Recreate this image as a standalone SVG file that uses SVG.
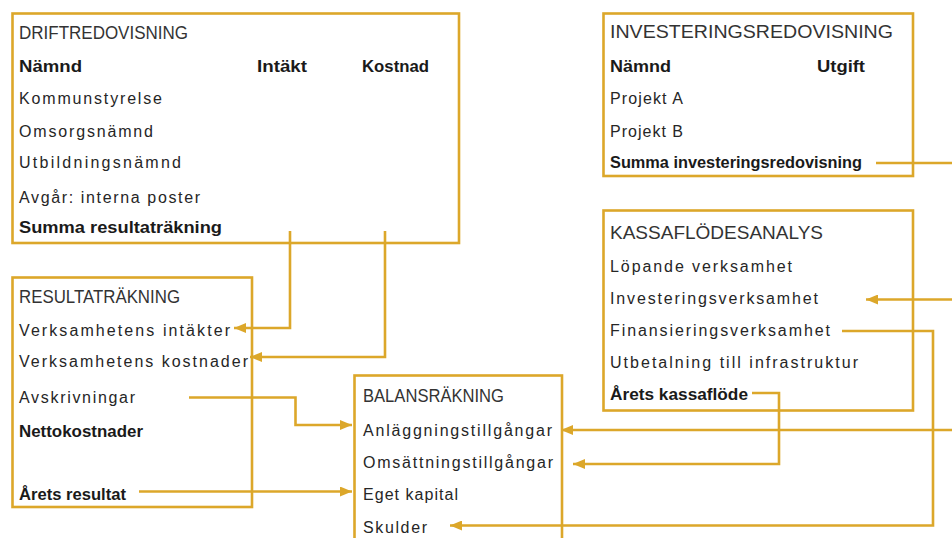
<svg xmlns="http://www.w3.org/2000/svg" width="952" height="538" viewBox="0 0 952 538">
<style>
.box{fill:#fff;stroke:#DCA72A;stroke-width:2.6}
.ln{fill:none;stroke:#DCA72A;stroke-width:2.6}
text{font-family:"Liberation Sans",Arial,sans-serif;fill:#262626}
.t{font-size:18px;fill:#333}
.r{font-size:16px}
.b{font-size:17px;font-weight:bold;fill:#1a1a1a}
</style>
<defs>
<marker id="ah" viewBox="0 0 12 10" refX="12" refY="5" markerWidth="12" markerHeight="10" markerUnits="userSpaceOnUse" orient="auto">
<path d="M0,0 L12,5 L0,10 z" fill="#DCA72A"/>
</marker>
</defs>
<g id="driftredovisning">
<rect class="box" x="12.5" y="13.5" width="446.5" height="229.5"/>
<text class="t" x="19" y="39" textLength="169" lengthAdjust="spacingAndGlyphs">DRIFTREDOVISNING</text>
<text class="b" x="19" y="72" textLength="63" lengthAdjust="spacingAndGlyphs">Nämnd</text>
<text class="b" x="257" y="72" textLength="50" lengthAdjust="spacingAndGlyphs">Intäkt</text>
<text class="b" x="362" y="72" textLength="67" lengthAdjust="spacingAndGlyphs">Kostnad</text>
<text class="r" x="19" y="104" textLength="143" lengthAdjust="spacing">Kommunstyrelse</text>
<text class="r" x="19" y="137" textLength="134" lengthAdjust="spacing">Omsorgsnämnd</text>
<text class="r" x="19" y="168" textLength="162" lengthAdjust="spacing">Utbildningsnämnd</text>
<text class="r" x="19" y="203" textLength="181" lengthAdjust="spacing">Avgår: interna poster</text>
<text class="b" x="19" y="233" textLength="203" lengthAdjust="spacingAndGlyphs">Summa resultaträkning</text>
</g>
<g id="investeringsredovisning">
<rect class="box" x="603.5" y="13.5" width="309.5" height="162.5"/>
<text class="t" x="610" y="38" textLength="283" lengthAdjust="spacingAndGlyphs">INVESTERINGSREDOVISNING</text>
<text class="b" x="610" y="72" textLength="61" lengthAdjust="spacingAndGlyphs">Nämnd</text>
<text class="b" x="817" y="72" textLength="48" lengthAdjust="spacingAndGlyphs">Utgift</text>
<text class="r" x="610" y="104" textLength="73" lengthAdjust="spacing">Projekt A</text>
<text class="r" x="610" y="137" textLength="73" lengthAdjust="spacing">Projekt B</text>
<text class="b" x="610" y="168" textLength="252" lengthAdjust="spacingAndGlyphs">Summa investeringsredovisning</text>
</g>
<g id="kassaflodesanalys">
<rect class="box" x="603.5" y="210.5" width="309.5" height="200"/>
<text class="t" x="610" y="239" textLength="213" lengthAdjust="spacingAndGlyphs">KASSAFLÖDESANALYS</text>
<text class="r" x="610" y="272" textLength="182" lengthAdjust="spacing">Löpande verksamhet</text>
<text class="r" x="610" y="304" textLength="208" lengthAdjust="spacing">Investeringsverksamhet</text>
<text class="r" x="610" y="336" textLength="220" lengthAdjust="spacing">Finansieringsverksamhet</text>
<text class="r" x="610" y="368" textLength="248" lengthAdjust="spacing">Utbetalning till infrastruktur</text>
<text class="b" x="610" y="400" textLength="138" lengthAdjust="spacingAndGlyphs">Årets kassaflöde</text>
</g>
<g id="resultatrakning">
<rect class="box" x="12.5" y="277.5" width="239.5" height="229.5"/>
<text class="t" x="19" y="303" textLength="161" lengthAdjust="spacingAndGlyphs">RESULTATRÄKNING</text>
<text class="r" x="19" y="336" textLength="211" lengthAdjust="spacing">Verksamhetens intäkter</text>
<text class="r" x="19" y="367" textLength="229" lengthAdjust="spacing">Verksamhetens kostnader</text>
<text class="r" x="19" y="403" textLength="116" lengthAdjust="spacing">Avskrivningar</text>
<text class="b" x="19" y="437" textLength="124" lengthAdjust="spacingAndGlyphs">Nettokostnader</text>
<text class="b" x="19" y="500" textLength="107" lengthAdjust="spacingAndGlyphs">Årets resultat</text>
</g>
<g id="balansrakning">
<rect class="box" x="354.5" y="375.5" width="207.5" height="200"/>
<text class="t" x="363" y="402" textLength="141" lengthAdjust="spacingAndGlyphs">BALANSRÄKNING</text>
<text class="r" x="363" y="436" textLength="189" lengthAdjust="spacing">Anläggningstillgångar</text>
<text class="r" x="363" y="468" textLength="190" lengthAdjust="spacing">Omsättningstillgångar</text>
<text class="r" x="363" y="500" textLength="95" lengthAdjust="spacing">Eget kapital</text>
<text class="r" x="363" y="533" textLength="64" lengthAdjust="spacing">Skulder</text>
</g>
<g id="connectors">
<path class="ln" d="M290,231 V328 H234" marker-end="url(#ah)"/>
<path class="ln" d="M385,231 V357 H250" marker-end="url(#ah)"/>
<path class="ln" d="M189,397.5 H295.5 V425 H352" marker-end="url(#ah)"/>
<path class="ln" d="M139,491.5 H352" marker-end="url(#ah)"/>
<path class="ln" d="M876,163 H952"/>
<path class="ln" d="M952,299.5 H866" marker-end="url(#ah)"/>
<path class="ln" d="M842,331 H933 V525.5 H450" marker-end="url(#ah)"/>
<path class="ln" d="M752,393 H779 V464 H573" marker-end="url(#ah)"/>
<path class="ln" d="M952,430 H561" marker-end="url(#ah)"/>
</g>
</svg>
